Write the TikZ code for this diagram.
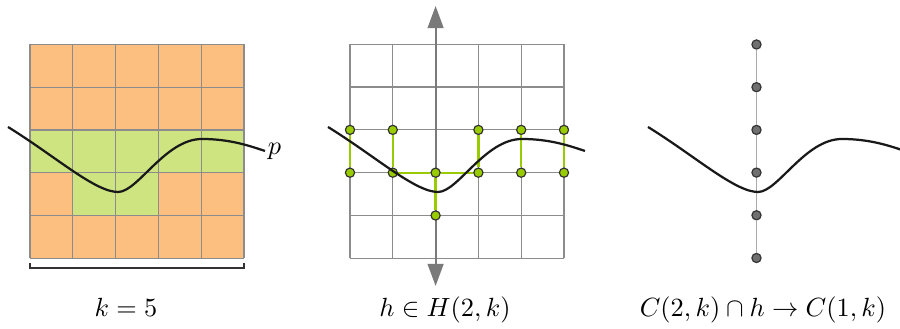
\documentclass[tikz,border=0pt]{standalone}
\usetikzlibrary{arrows.meta}
\definecolor{cellorange}{HTML}{FDBF80}
\definecolor{cellgreen}{HTML}{CDE480}
\definecolor{gridgray}{HTML}{8C8C8C}
\definecolor{limeline}{HTML}{99CC00}
\definecolor{axisgray}{HTML}{7A7A7A}
\definecolor{vline}{HTML}{AAAAAA}
\definecolor{vdotfill}{HTML}{707070}
\begin{document}
\begin{tikzpicture}[x=0.38pt,y=-0.38pt,
  gridline/.style={draw=gridgray,line width=0.45pt},
  curveline/.style={draw=black!90,line width=0.85pt},
  gdot/.style={circle,draw=black!80,fill=limeline,line width=0.45pt,inner sep=0pt,minimum size=3.5pt},
  vdot/.style={circle,draw=black!80,fill=vdotfill,line width=0.45pt,inner sep=0pt,minimum size=3.5pt},
  glink/.style={draw=limeline,line width=0.9pt},
  vlink/.style={draw=vline,line width=0.7pt},
  axis/.style={draw=axisgray,line width=0.76pt,arrows={Triangle[length=8.4pt,width=6pt]-Triangle[length=8.4pt,width=6pt]}},
  bracket/.style={draw=black!80,line width=0.5pt},
  lbl/.style={anchor=base,inner sep=0pt}]
\clip (0,0) rectangle (900,329);
\def\cs{42.8}
% ---------- panel 1 ----------
\fill[cellorange] (30,44.5) rectangle ({30+5*\cs},{44.5+5*\cs});
\fill[cellgreen] (30,{44.5+2*\cs}) rectangle ({30+5*\cs},{44.5+3*\cs});
\fill[cellgreen] ({30+\cs},{44.5+3*\cs}) rectangle ({30+3*\cs},{44.5+4*\cs});
\foreach \i in {0,...,5}{
  \draw[gridline] ({30+\i*\cs},44.5) -- ({30+\i*\cs},{44.5+5*\cs});
  \draw[gridline] (30,{44.5+\i*\cs}) -- ({30+5*\cs},{44.5+\i*\cs});
}
\draw[bracket] (30,263) -- (30,268) -- ({30+5*\cs},268) -- ({30+5*\cs},263);
% ---------- panel 2 grid ----------
\foreach \i in {0,...,5}{
  \draw[gridline] ({350+\i*\cs},44.3) -- ({350+\i*\cs},{44.3+5*\cs});
  \draw[gridline] (350,{44.3+\i*\cs}) -- ({350+5*\cs},{44.3+\i*\cs});
}
\coordinate (axtop) at ({350+2*\cs},6);
\coordinate (axbot) at ({350+2*\cs},286);
\draw[axis] (axbot) -- (axtop);
% green dots
\foreach \c in {0,1,3,4,5}{\node[gdot] (g\c2) at ({350+\c*\cs},{44.3+2*\cs}) {};}
\foreach \c in {0,...,5}{\node[gdot] (g\c3) at ({350+\c*\cs},{44.3+3*\cs}) {};}
\node[gdot] (g24) at ({350+2*\cs},{44.3+4*\cs}) {};
\foreach \c in {0,1,3,4,5}{\draw[glink] (g\c2) -- (g\c3);}
\draw[glink] (g13) -- (g23);
\draw[glink] (g23) -- (g33);
\draw[glink] (g23) -- (g24);
% ---------- panel 3 ----------
\foreach \i in {0,...,5}{\node[vdot] (v\i) at (756.5,{44.5+\i*42.7}) {};}
\foreach \i/\j in {0/1,1/2,2/3,3/4,4/5}{\draw[vlink] (v\i) -- (v\j);}
% ---------- curves ----------
\foreach \dx in {0,320,640}{
  \draw[curveline] ({8+\dx},127) .. controls ({55+\dx},156) and ({95+\dx},192) .. ({118+\dx},192)
     .. controls ({138+\dx},192) and ({165+\dx},139) .. ({202+\dx},139)
     .. controls ({230+\dx},139) and ({250+\dx},146) .. ({265+\dx},151);
}
\node[inner sep=0pt] (plabel) at (274.5,151.5) {$p$};
% ---------- labels ----------
\node[lbl] (lk) at (126,317) {$k=5$};
\node[lbl] (lh) at (445,317) {$h\in H(2,k)$};
\node[lbl] (lc) at (763,317) {$C(2,k)\cap h\to C(1,k)$};
\end{tikzpicture}
\end{document}
